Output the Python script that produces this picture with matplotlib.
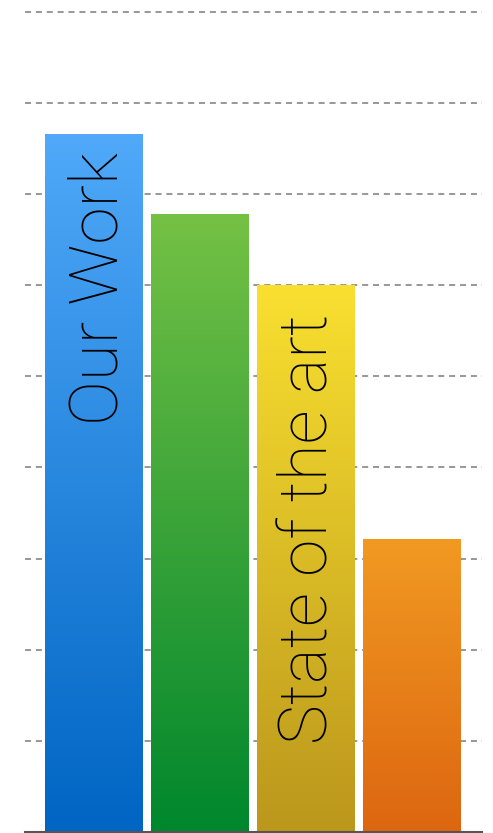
import matplotlib
matplotlib.use("Agg")
import matplotlib.pyplot as plt
import numpy as np
from matplotlib.colors import LinearSegmentedColormap

# Data
categories = ["Our Work", "B", "State of the art", "D"]
values = [76.7, 67.9, 60.1, 32.1]
labels = ["Our Work", "", "State of the art", ""]
top_colors = ["#50A9F9", "#75C145", "#F9E030", "#F19A22"]
bottom_colors = ["#0065C3", "#00872D", "#BB971C", "#DD6610"]
gridticks = [10, 20, 30, 40, 50, 60, 70, 80, 90]

W, H = 493, 833
fig = plt.figure(figsize=(W / 100, H / 100), dpi=100)
ax = fig.add_axes([25 / W, 1.5 / H, 457 / W, 831.5 / H])

x = np.arange(len(values))
ax.set_xlim(-0.644, 3.655)
ax.set_ylim(0, 831.5 / 91 * 10)

for g in gridticks:
    ax.axhline(g, color="#9a9a9a", lw=1.45, ls=(0, (3, 2.4)), zorder=0)
ax.axhline(0, color="#555555", lw=1.5, zorder=5, clip_on=False)

bars = ax.bar(x, values, width=0.92, color="none", zorder=2)
grad = np.linspace(0, 1, 256).reshape(-1, 1)
for b, tc, bc in zip(bars, top_colors, bottom_colors):
    cmap = LinearSegmentedColormap.from_list("g", [bc, tc])
    x0, y0 = b.get_x(), b.get_y()
    im = ax.imshow(grad, extent=(x0, x0 + b.get_width(), y0, y0 + b.get_height()),
                   origin="lower", aspect="auto", cmap=cmap, zorder=2)
    im.set_clip_path(b)

ax.set_xlim(-0.644, 3.655)
ax.set_ylim(0, 831.5 / 91 * 10)

offsets = [(24, -19), (0, 0), (21, -29), (0, 0)]
for i, (lab, v) in enumerate(zip(labels, values)):
    if not lab:
        continue
    dx, dy = offsets[i]
    ax.annotate(lab, xy=(i, v), xytext=(dx, dy), textcoords="offset pixels",
                rotation=90, rotation_mode="anchor", ha="right", va="baseline",
                fontsize=48.5, family="Roboto", weight="light", color="black", zorder=4)

for s in ax.spines.values():
    s.set_visible(False)
ax.set_xticks([])
ax.set_yticks([])

fig.savefig("out.png", dpi=100)
